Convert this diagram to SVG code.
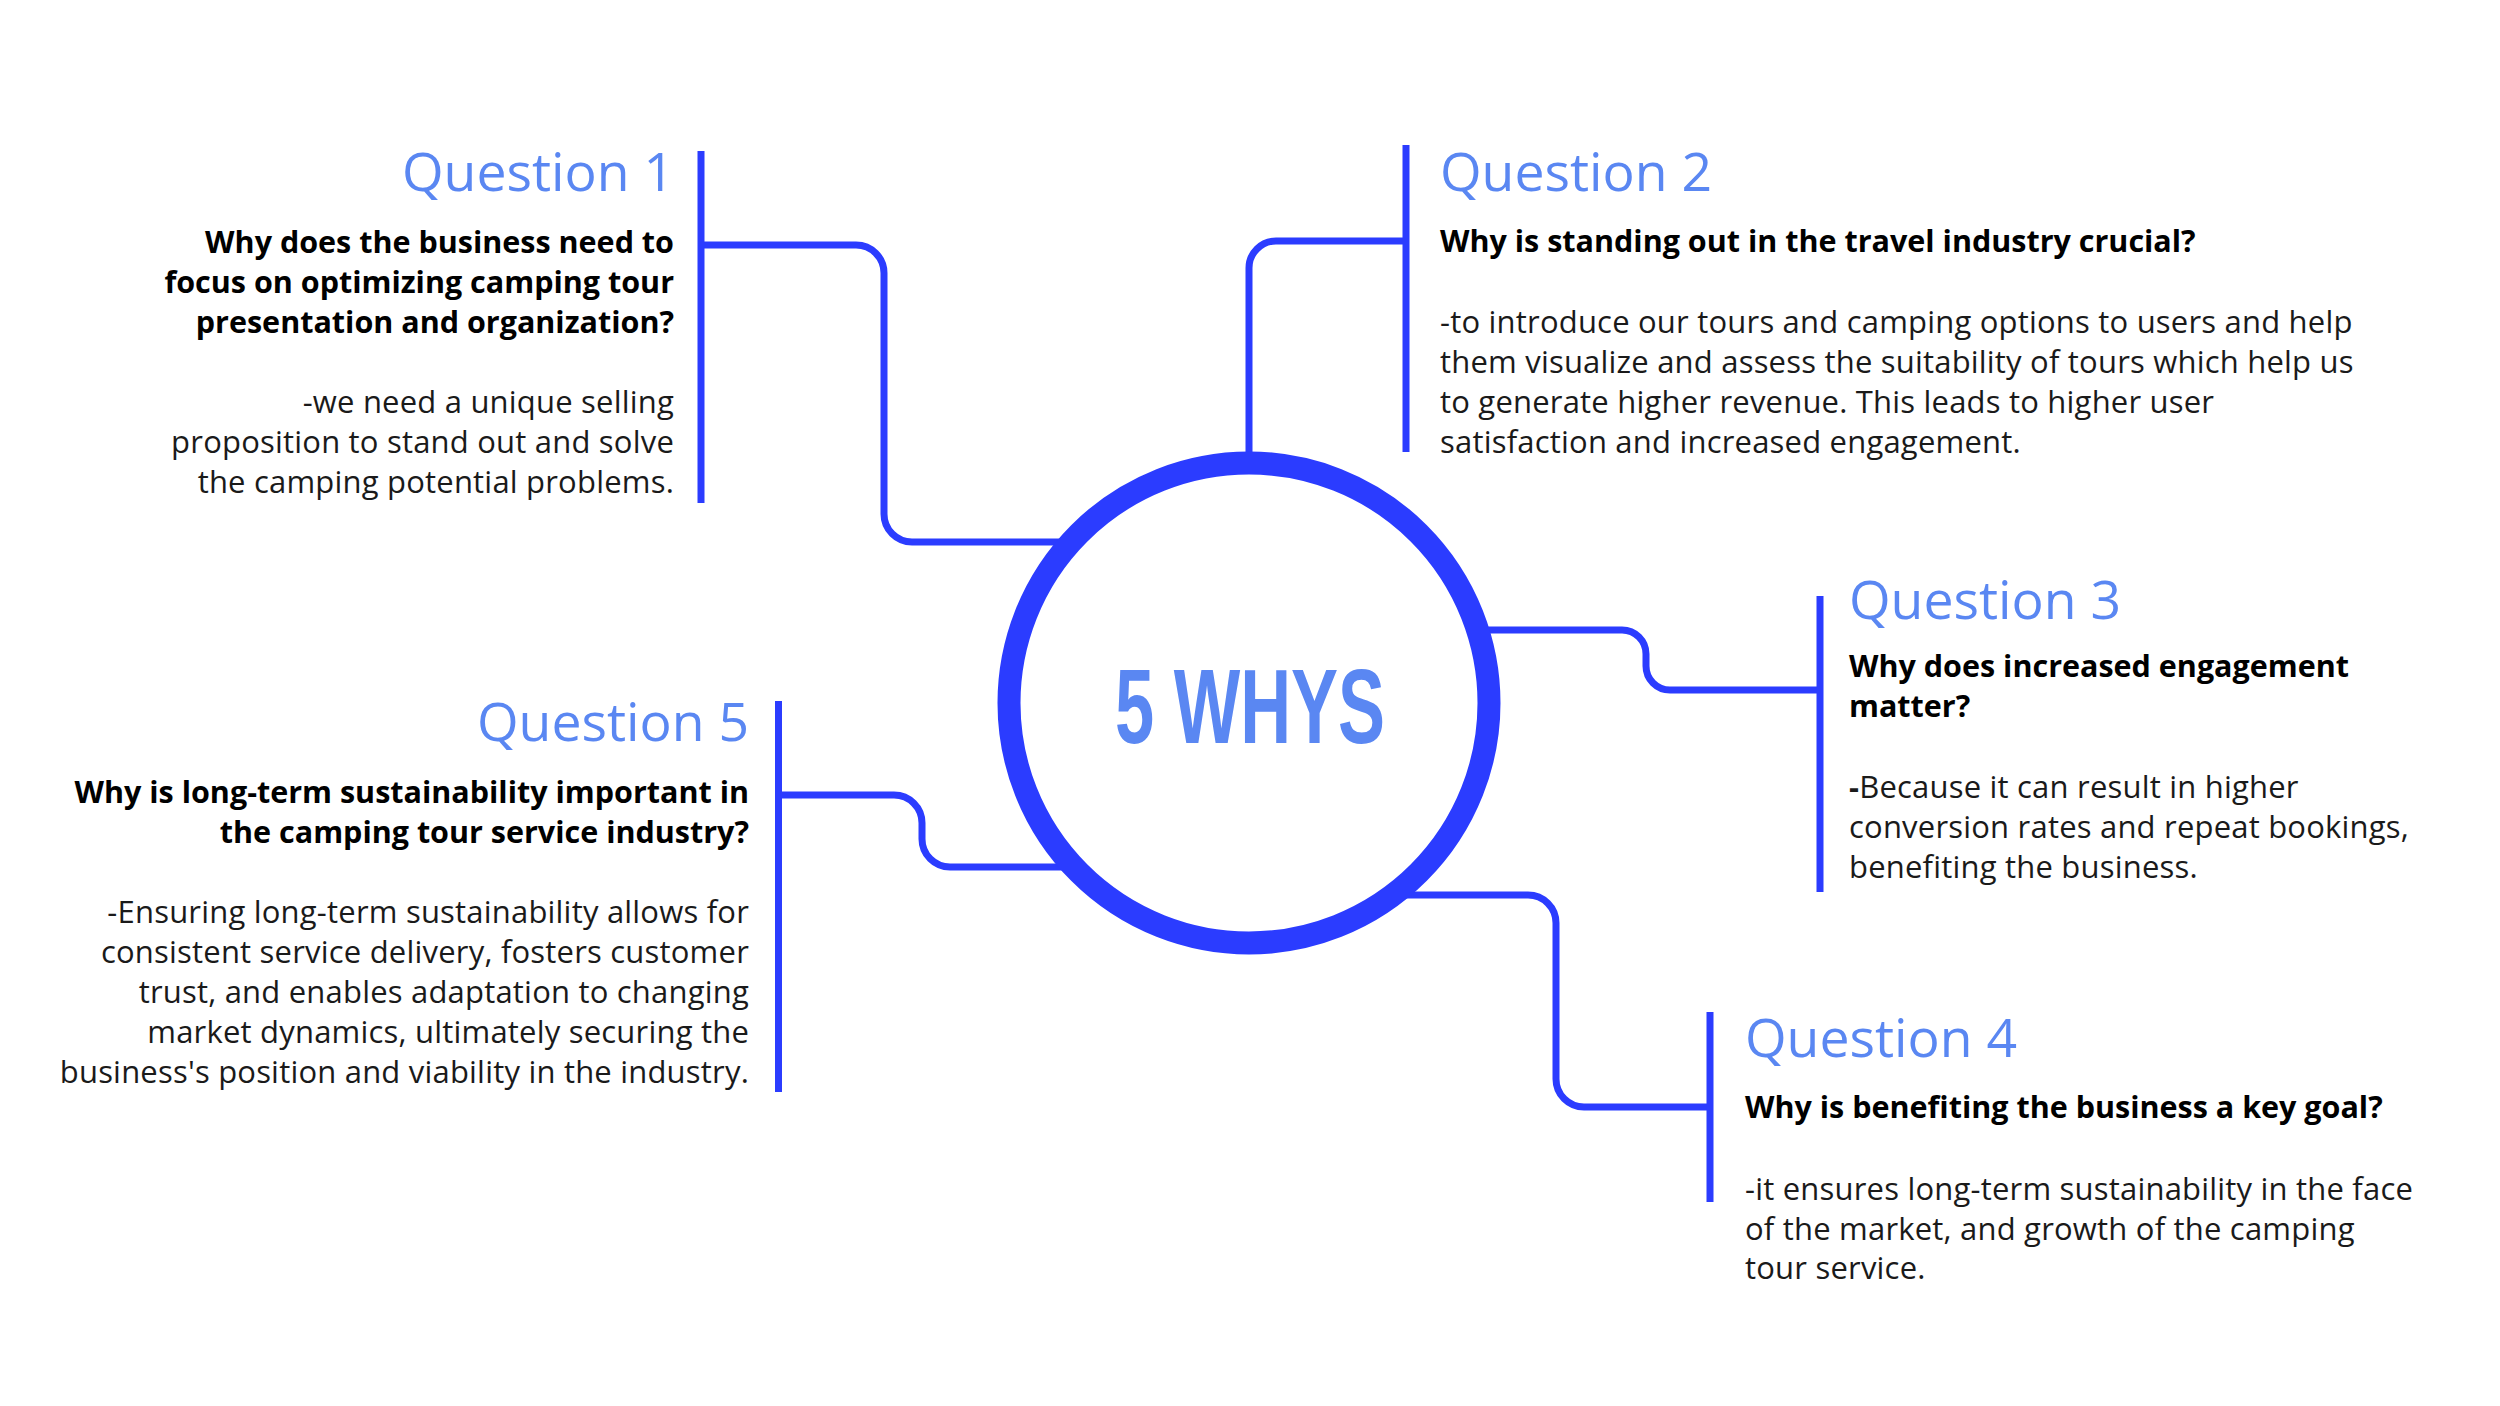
<svg xmlns="http://www.w3.org/2000/svg" width="2500" height="1406" viewBox="0 0 2500 1406">
<style>
.h{font-family:"Open Sans","Noto Sans",sans-serif;font-size:53.5px;font-weight:500;fill:#5a87f2}
.b{font-family:"Open Sans","Noto Sans",sans-serif;font-size:30.5px;font-weight:700;fill:#000}
.t{font-family:"Open Sans","Noto Sans",sans-serif;font-size:31px;font-weight:400;fill:#1a1a1a;letter-spacing:0.2px}
.r{text-anchor:end}
.bar{stroke:#2b3cff;stroke-width:7;fill:none}
.con{stroke:#2b3cff;stroke-width:7;fill:none}
</style>
<rect width="2500" height="1406" fill="#fff"/>
<g id="connectors">
<path class="con" d="M 701 245 H 856 A 28 28 0 0 1 884 273 V 514 A 28 28 0 0 0 912 542 H 1062"/>
<path class="con" d="M 1249 460 V 268 A 27 27 0 0 1 1276 241 H 1406"/>
<path class="con" d="M 1480 630 H 1622 A 24 24 0 0 1 1646 654 V 666 A 24 24 0 0 0 1670 690 H 1820"/>
<path class="con" d="M 1400 895 H 1528 A 28 28 0 0 1 1556 923 V 1079 A 28 28 0 0 0 1584 1107 H 1710"/>
<path class="con" d="M 778 795 H 894 A 28 28 0 0 1 922 823 V 839 A 28 28 0 0 0 950 867 H 1065"/>
</g>
<g id="center">
<circle cx="1249" cy="703" r="240" fill="#fff" stroke="#2b3cff" stroke-width="23"/>
<text x="1250" y="743" text-anchor="middle" font-family="Liberation Sans, Arial, sans-serif" font-weight="700" font-size="105" fill="#5a87f2" textLength="270" lengthAdjust="spacingAndGlyphs">5 WHYS</text>
</g>
<g id="q1">
<line class="bar" x1="701" y1="151" x2="701" y2="503"/>
<text class="h r" x="674" y="191">Question 1</text>
<text class="b r" x="674" y="253">Why does the business need to</text>
<text class="b r" x="674" y="293">focus on optimizing camping tour</text>
<text class="b r" x="674" y="333">presentation and organization?</text>
<text class="t r" x="674" y="413">-we need a unique selling</text>
<text class="t r" x="674" y="453">proposition to stand out and solve</text>
<text class="t r" x="674" y="493">the camping potential problems.</text>
</g>
<g id="q2">
<line class="bar" x1="1406" y1="145" x2="1406" y2="452"/>
<text class="h" x="1440" y="191">Question 2</text>
<text class="b" x="1440" y="252">Why is standing out in the travel industry crucial?</text>
<text class="t" x="1440" y="333">-to introduce our tours and camping options to users and help</text>
<text class="t" x="1440" y="373">them visualize and assess the suitability of tours which help us</text>
<text class="t" x="1440" y="413">to generate higher revenue. This leads to higher user</text>
<text class="t" x="1440" y="453">satisfaction and increased engagement.</text>
</g>
<g id="q3">
<line class="bar" x1="1820" y1="596" x2="1820" y2="892"/>
<text class="h" x="1849" y="619">Question 3</text>
<text class="b" x="1849" y="677">Why does increased engagement</text>
<text class="b" x="1849" y="717">matter?</text>
<text class="t" x="1849" y="798"><tspan font-weight="700">-</tspan>Because it can result in higher</text>
<text class="t" x="1849" y="838">conversion rates and repeat bookings,</text>
<text class="t" x="1849" y="878">benefiting the business.</text>
</g>
<g id="q4">
<line class="bar" x1="1710" y1="1012" x2="1710" y2="1202"/>
<text class="h" x="1745" y="1057">Question 4</text>
<text class="b" x="1745" y="1118">Why is benefiting the business a key goal?</text>
<text class="t" x="1745" y="1200">-it ensures long-term sustainability in the face</text>
<text class="t" x="1745" y="1240">of the market, and growth of the camping</text>
<text class="t" x="1745" y="1279">tour service.</text>
</g>
<g id="q5">
<line class="bar" x1="778.5" y1="701" x2="778.5" y2="1092"/>
<text class="h r" x="749" y="741">Question 5</text>
<text class="b r" x="749" y="803">Why is long-term sustainability important in</text>
<text class="b r" x="749" y="843">the camping tour service industry?</text>
<text class="t r" x="749" y="923">-Ensuring long-term sustainability allows for</text>
<text class="t r" x="749" y="963">consistent service delivery, fosters customer</text>
<text class="t r" x="749" y="1003">trust, and enables adaptation to changing</text>
<text class="t r" x="749" y="1043">market dynamics, ultimately securing the</text>
<text class="t r" x="749" y="1083">business's position and viability in the industry.</text>
</g>
</svg>
